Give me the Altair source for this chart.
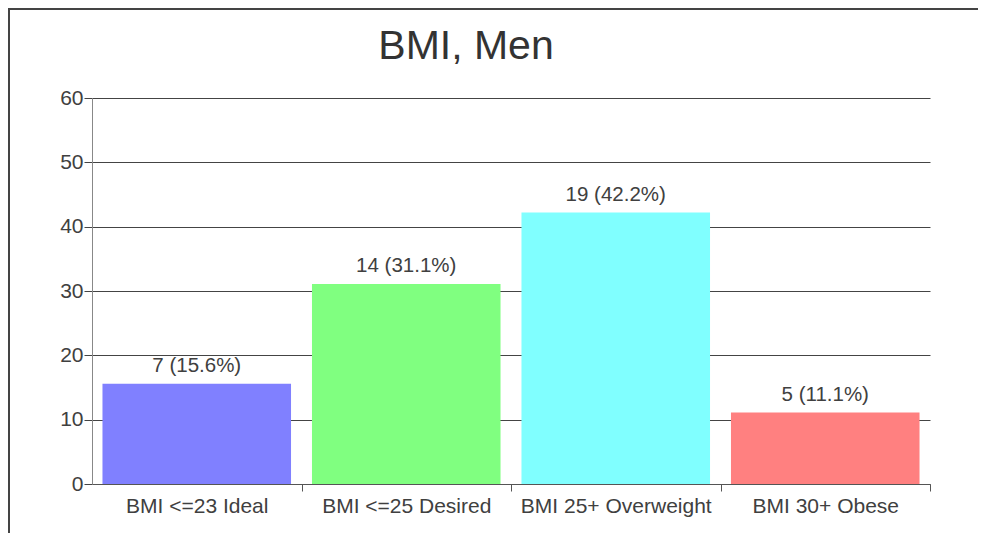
import altair as alt
import pandas as pd

categories = ["BMI <=23 Ideal", "BMI <=25 Desired", "BMI 25+ Overweight", "BMI 30+ Obese"]
counts = [7, 14, 19, 5]
percents = [15.6, 31.1, 42.2, 11.1]
colors = ["#8080ff", "#80ff80", "#80ffff", "#ff8080"]
title_text = "BMI, Men"

df = pd.DataFrame({
    "cat": categories,
    "pct": percents,
    "label": [f"{c} ({p:.1f}%)" for c, p in zip(counts, percents)],
})

FONT = "Liberation Sans"
TXT = "#404040"

x_enc = alt.X(
    "cat:N",
    sort=categories,
    scale=alt.Scale(paddingInner=0.1, paddingOuter=0.05),
    axis=alt.Axis(
        title=None, labelAngle=0, tickSize=7, tickOffset=104.75, labelOffset=-104.75,
        labelPadding=4, labelLimit=0,
        domainColor="#555555", tickColor="#555555", labelFontSize=21,
        labelColor=TXT, labelFont=FONT, grid=False,
    ),
)
y_enc = alt.Y(
    "pct:Q",
    scale=alt.Scale(domain=[0, 60], nice=False),
    axis=alt.Axis(
        title=None, values=[0, 10, 20, 30, 40, 50, 60], tickSize=8, labelPadding=1,
        domainColor="#888888", tickColor="#444444", gridColor="#444444", grid=True,
        labelFontSize=21, labelColor=TXT, labelFont=FONT,
    ),
)

base = alt.Chart(df)

bars = base.mark_bar().encode(
    x=x_enc,
    y=y_enc,
    color=alt.Color("cat:N", sort=categories,
                    scale=alt.Scale(domain=categories, range=colors), legend=None),
)

labels = base.mark_text(
    baseline="alphabetic", dy=-12, fontSize=20.5, font=FONT, color=TXT
).encode(x=alt.X("cat:N", sort=categories), y="pct:Q", text="label:N")

title = alt.Chart(pd.DataFrame({"t": [title_text]})).mark_text(
    fontSize=41, font=FONT, color="#333333", baseline="alphabetic", align="center"
).encode(x=alt.value(374), y=alt.value(-38.7), text="t:N")

one = pd.DataFrame({"t": [title_text]})
frame_top = alt.Chart(one).mark_rule(stroke="#444444", strokeWidth=2).encode(
    x=alt.value(-84), x2=alt.value(886), y=alt.value(-89)
)
frame_left = alt.Chart(one).mark_rule(stroke="#444444", strokeWidth=2).encode(
    x=alt.value(-83), y=alt.value(-90), y2=alt.value(435)
)

chart = alt.layer(frame_top, frame_left, bars, labels, title).properties(
    width=838, height=386,
    autosize=alt.AutoSizeParams(type="none"),
    padding={"left": 84, "top": 90, "right": 51, "bottom": 51},
).configure_view(stroke=None)

chart.save("out.html", embed_options={"renderer": "svg", "actions": False})
